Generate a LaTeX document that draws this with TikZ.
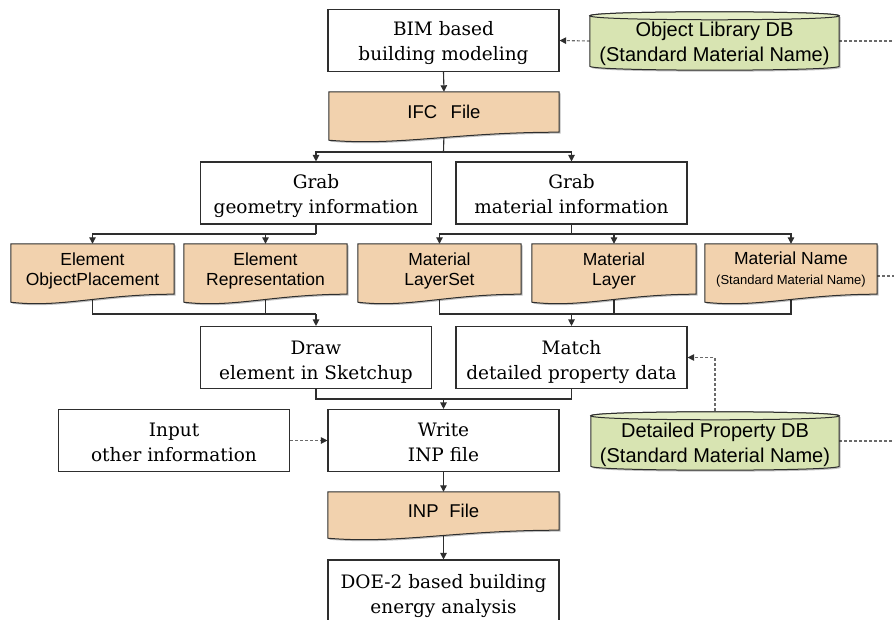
\documentclass[tikz,border=0pt]{standalone}
\usepackage{fontspec}
\setmainfont{DejaVu Serif}
\setsansfont{Liberation Sans}
\usetikzlibrary{arrows.meta,backgrounds,calc,shadows}
\definecolor{linegray}{HTML}{2E2E2E}
\definecolor{dashgray}{HTML}{6A6A6A}
\definecolor{docfill}{HTML}{F2D2AE}
\definecolor{dbfill}{HTML}{D8E4B2}
\definecolor{dbtop}{HTML}{E4EDC6}

% stacked lines, set a little below the node centre
\newcommand\lowered[2][4pt]{\raisebox{-#1}[\height][\depth]{\begin{tabular}{@{}c@{}}#2\end{tabular}}}

% document symbol: straight top, wavy bottom (right end = node south)
\newcommand\docshape[2]{%
  \filldraw[docstyle] (#1.north west) -- (#1.north east) -- (#1.south east)
    .. controls ($(#1.south east)+(-0.45*#2,0)$) and ($(#1.south west)+(0.3*#2,14)$)
    .. ($(#1.south west)+(0,8)$) -- cycle;}
% database cylinder: node north/south lie on the centre lines of the end ellipses
\newcommand\dbshape[1]{%
  \filldraw[dbstyle] (#1.north west) -- (#1.south west)
    .. controls ($(#1.south west)+(0,5.3)$) and ($(#1.south east)+(0,5.3)$) .. (#1.south east)
    -- (#1.north east)
    .. controls ($(#1.north east)+(0,-5.3)$) and ($(#1.north west)+(0,-5.3)$) .. (#1.north west) -- cycle;
  \filldraw[draw=linegray, line width=1pt, fill=dbtop] (#1.north west)
    .. controls ($(#1.north west)+(0,-5.3)$) and ($(#1.north east)+(0,-5.3)$) .. (#1.north east)
    .. controls ($(#1.north east)+(0,5.3)$) and ($(#1.north west)+(0,5.3)$) .. (#1.north west) -- cycle;}

\begin{document}
\begin{tikzpicture}[x=1pt,y=-1pt,
  proc/.style={draw=linegray, line width=1.1pt, fill=white, minimum width=231pt,
    minimum height=62pt, inner sep=0pt, align=center,
    font=\fontsize{18.5}{25}\selectfont},
  doc/.style={inner sep=0pt, align=center, minimum width=163pt, minimum height=50pt,
    font=\sffamily\fontsize{17.5}{20}\selectfont},
  db/.style={inner sep=0pt, align=center, minimum width=249pt, minimum height=50pt,
    font=\sffamily\fontsize{20}{25}\selectfont},
  softshadow/.style={drop shadow={shadow xshift=1.5pt, shadow yshift=-1.5pt,
    opacity=0.25, fill=black}},
  docstyle/.style={draw=linegray, line width=1pt, fill=docfill, softshadow},
  dbstyle/.style={draw=linegray, line width=1pt, fill=dbfill, softshadow},
  link/.style={draw=linegray, line width=1.1pt},
  arr/.style={link, -{Triangle[length=6.5pt,width=6.5pt]}},
  dlink/.style={draw=dashgray, line width=1.1pt, dash pattern=on 3pt off 2pt},
  darr/.style={dlink, -{Triangle[length=6.5pt,width=6.5pt,color=linegray,fill=linegray]}}
]
\useasboundingbox (0,0) rectangle (894,620);
\clip (0,0) rectangle (894,620);

% process boxes
\node[proc] (bim) at (443.5,40.5) {\lowered[2.5pt]{BIM based\\building modeling}};
\node[proc] (geo) at (316,193) {\lowered[3.5pt]{Grab\\geometry information}};
\node[proc] (mat) at (571.5,193) {\lowered[3.5pt]{Grab\\material information}};
\node[proc] (drw) at (316,357.5) {\lowered{Draw\\element in Sketchup}};
\node[proc] (match) at (571.5,357.5) {\lowered{Match\\detailed property data}};
\node[proc] (input) at (174,440.5) {\lowered[3.5pt]{Input\\other information}};
\node[proc] (write) at (443.5,440.5) {\lowered[3.5pt]{Write\\INP file}};
\node[proc, minimum height=69pt] (doe) at (443.5,594.5) {\lowered[1.5pt]{DOE-2 based building\\energy analysis}};

% documents
\node[doc, minimum width=230pt, minimum height=40pt, font=\sffamily\fontsize{18.5}{22}\selectfont]
  (ifc) at (444,112) {IFC\hspace{0.45em} File};
\node[doc] (eop) at (92.5,269) {\lowered[2.5pt]{Element\\ObjectPlacement}};
\node[doc] (erep) at (265.5,269) {\lowered[2.5pt]{Element\\Representation}};
\node[doc] (mls) at (439.5,269) {\lowered[2.5pt]{Material\\LayerSet}};
\node[doc, minimum width=164pt] (mlay) at (614,269) {\lowered[2.5pt]{Material\\Layer}};
\node[doc, minimum width=172pt] (mname) at (791,269)
  {\lowered[1.5pt]{Material Name\\{\fontsize{13}{14}\selectfont(Standard Material Name)}}};
\node[doc, minimum width=231pt, minimum height=38pt, font=\sffamily\fontsize{18.5}{22}\selectfont]
  (inp) at (443.5,511) {INP\hspace{0.3em} File};

% databases
\node[db] (objdb) at (714.5,41)
  {\lowered[3.5pt]{Object Library DB\\(Standard Material Name)}};
\node[db, minimum width=248pt] (propdb) at (715,441)
  {\lowered[3.5pt]{Detailed Property DB\\(Standard Material Name)}};

% junctions and page-edge ends
\coordinate (b1) at (443.5,152);
\coordinate (b2) at (316,234);
\coordinate (b3) at (571.5,234);
\coordinate (m1) at (316,314);
\coordinate (m2) at (571.5,314);
\coordinate (m3) at (443.5,399);
\coordinate (e1) at (894,41);
\coordinate (e2) at (894,276);
\coordinate (e3) at (894,441);

\begin{pgfonlayer}{background}
  % connectors
  \draw[arr] (bim.south) -- (ifc.north);
  \draw[link] (ifc.south) -- (b1);
  \draw[arr] (b1) -| (geo.north);
  \draw[arr] (b1) -| (mat.north);
  \draw[link] (geo.south) -- (b2);
  \draw[arr] (b2) -| (eop.north);
  \draw[arr] (b2) -| (erep.north);
  \draw[link] (mat.south) -- (b3);
  \draw[arr] (b3) -| (mls.north);
  \draw[arr] (b3) -| (mlay.north);
  \draw[arr] (b3) -| (mname.north);
  \draw[link] (eop.south) |- (m1);
  \draw[link] (erep.south) |- (m1);
  \draw[arr] (m1) -- (drw.north);
  \draw[link] (mls.south) |- (m2);
  \draw[link] (mlay.south) |- (m2);
  \draw[link] (mname.south) |- (m2);
  \draw[arr] (m2) -- (match.north);
  \draw[link] (drw.south) |- (m3);
  \draw[link] (match.south) |- (m3);
  \draw[arr] (m3) -- (write.north);
  \draw[darr] (input.east) -- (write.west);
  \draw[arr] (write.south) -- (inp.north);
  \draw[arr] (inp.south) -- (doe.north);
  \draw[darr] (objdb.west) -- (bim.east);
  \draw[dlink] (objdb.east) -- (e1);
  \draw[dlink] (mname.east |- e2) -- (e2);
  \draw[darr] (propdb.north) |- (match.east);
  \draw[dlink] (propdb.east) -- (e3);
  % shapes
  \docshape{ifc}{230}
  \docshape{eop}{163}
  \docshape{erep}{163}
  \docshape{mls}{163}
  \docshape{mlay}{164}
  \docshape{mname}{172}
  \docshape{inp}{231}
  \dbshape{objdb}
  \dbshape{propdb}
\end{pgfonlayer}
\end{tikzpicture}
\end{document}
